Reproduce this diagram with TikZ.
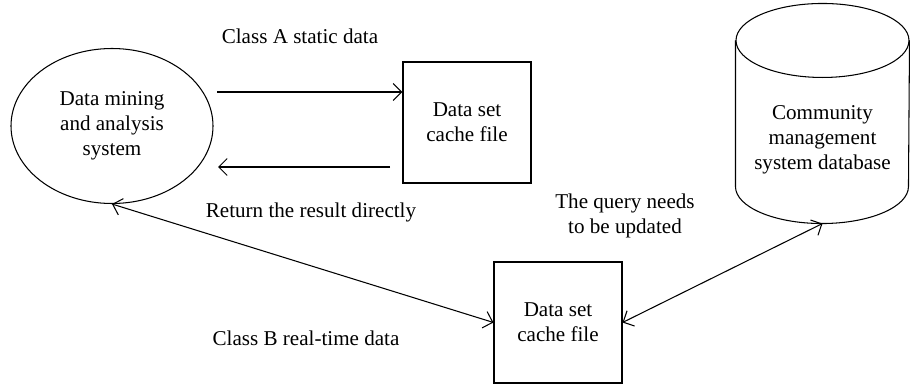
\documentclass[tikz,border=0pt]{standalone}
\usepackage{fontspec}
\setmainfont{Liberation Serif}
\usetikzlibrary{arrows.meta, positioning, shapes.geometric, calc}

\begin{document}
\begin{tikzpicture}[
    font=\fontsize{12pt}{14.2pt}\selectfont,
    line width=0.6pt,
    every node/.style={align=center},
    cachebox/.style={rectangle, draw, minimum width=2.56cm, minimum height=2.42cm},
    flow/.style={-{Straight Barb[length=1.7mm, width=3.4mm]}},
    dflow/.style={{Straight Barb[length=1.7mm, width=3.4mm]}-{Straight Barb[length=1.7mm, width=3.4mm]}}
  ]
      \useasboundingbox (0,0) rectangle (18.2,7.7);

      \node[ellipse, draw, minimum width=4.04cm, minimum height=3.1cm] (mine) at (2.24,5.18) {Data mining\\and analysis\\system};
      \node[cachebox] (cache1) at (9.34,5.25) {Data set\\cache file};
      \node[cachebox] (cache2) at (11.16,1.25) {Data set\\cache file};

      % database drum
      \node[inner sep=0, minimum width=3.46cm, minimum height=4.38cm] (db) at (16.45,5.43) {};
      \draw ($(db.north west)+(0,-0.74)$) -- ($(db.south west)+(0,0.74)$)
            arc[start angle=180, end angle=360, x radius=1.73, y radius=0.74]
            -- ($(db.north east)+(0,-0.74)$);
      \draw ($(db.north)+(0,-0.74)$) ellipse[x radius=1.73, y radius=0.74];
      \node (dbtext) at (16.45,4.9) {Community\\management\\system database};

      \coordinate (a1) at (4.34,5.86);
      \coordinate (a2) at (7.80,4.36);
      \coordinate (a3) at (4.36,4.36);

      \draw[flow] (a1) -- (a1 -| cache1.west);
      \draw[flow] (a2) -- (a3);
      \draw[dflow] (mine.south) -- (cache2.west);
      \draw[dflow] (cache2.east) -- (db.south);

      \node (classa) at (6.0,6.98) {Class A static data};
      \node (ret) at (6.22,3.46) {Return the result directly};
      \node (classb) at (6.12,0.94) {Class B real-time data};
      \node (query) at (12.5,3.38) {The query needs\\to be updated};
    \end{tikzpicture}
\end{document}
